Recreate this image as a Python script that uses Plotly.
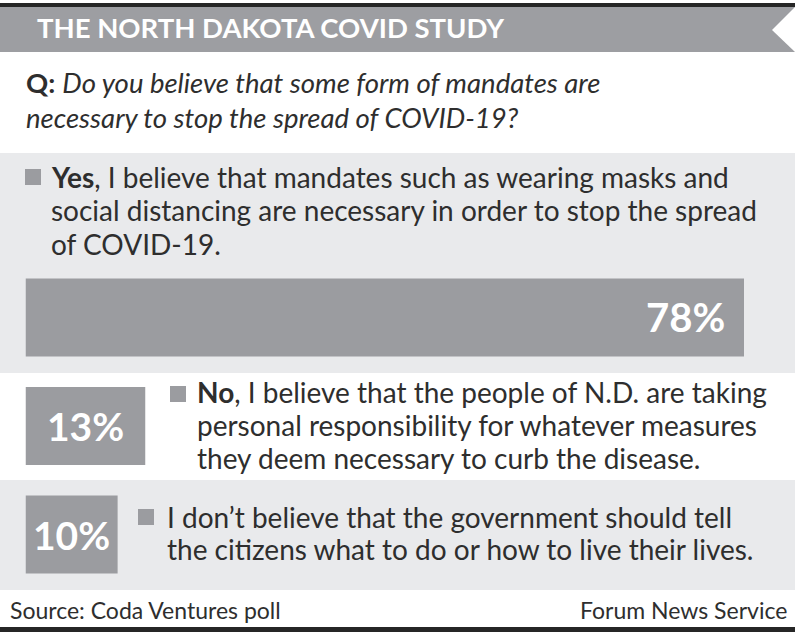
import plotly.graph_objects as go

W, H = 795, 632

# ---- data ----
title = "THE NORTH DAKOTA COVID STUDY"
question_lines = [
    "Do you believe that some form of mandates are",
    "necessary to stop the spread of COVID-19?",
]
categories = ["Yes", "No", "Other"]
values = [78, 13, 10]
lead_words = ["Yes", "No", ""]
answer_lines = [
    [", I believe that mandates such as wearing masks and",
     "social distancing are necessary in order to stop the spread",
     "of COVID-19."],
    [", I believe that the people of N.D. are taking",
     "personal responsibility for whatever measures",
     "they deem necessary to curb the disease."],
    ["I don\u2019t believe that the government should tell",
     "the citizens what to do or how to live their lives."],
]
source_text = "Source: Coda Ventures poll"
credit_text = "Forum News Service"

# ---- style ----
BAR = "#9b9ca0"
HEAD = "#9d9ea2"
PANEL = "#e9eaec"
TEXT = "#2e2e2e"
FONT = "Lato"
BODY = 28


def X(px):
    return px / W


def Y(py):
    return 1 - py / H


fig = go.Figure()
fig.add_trace(go.Bar(
    x=values, y=categories, orientation="h", width=0.72,
    marker=dict(color=BAR, line=dict(width=0)),
    hoverinfo="skip", showlegend=False,
))

shapes = []


def rect(x0, y0, x1, y1, color, layer="below"):
    shapes.append(dict(type="rect", xref="paper", yref="paper",
                       x0=X(x0), x1=X(x1), y0=Y(y1), y1=Y(y0),
                       fillcolor=color, line=dict(width=0), layer=layer))


rect(0, 3, W, 7, "#262626")
rect(0, 7, W, 52, HEAD)
rect(0, 153, W, 373, PANEL)
rect(0, 480, W, 590, PANEL)
rect(0, 627, W, H, "#262626")
# notch in header
shapes.append(dict(type="path", xref="paper", yref="paper",
                   path=f"M {X(W)},{Y(7)} L {X(772)},{Y(30)} L {X(W)},{Y(52)} Z",
                   fillcolor="white", line=dict(width=0), layer="below"))
# legend squares
for (sx, sy) in [(25, 169), (170, 386), (138, 509)]:
    rect(sx, sy, sx + 16, sy + 16, BAR, layer="above")

ann = []


def line(text, x, baseline, size, color=TEXT, weight=400, xanchor="left"):
    ann.append(dict(text=text, x=X(x), y=Y(baseline - 0.36 * size),
                    xref="paper", yref="paper", xanchor=xanchor,
                    yanchor="middle", showarrow=False,
                    font=dict(family=FONT, size=size, color=color, weight=weight)))


line(title, 35, 37, 27.5, color="white", weight=700)
line("<b>Q:</b> <i>" + question_lines[0] + "</i>", 24, 92.5, 27.5)
line("<i>" + question_lines[1] + "</i>", 24, 127.5, 27.5)

answer_x = [49, 195, 165]
answer_baselines = [[187, 220.5, 254], [402, 435.5, 468.5], [527, 559.5]]
for lead, lines, ax, bls in zip(lead_words, answer_lines, answer_x, answer_baselines):
    for j, (txt, bl) in enumerate(zip(lines, bls)):
        if j == 0 and lead:
            txt = "<b>" + lead + "</b>" + txt
        line(txt, ax, bl, BODY)

for i, (cat, v) in enumerate(zip(categories, values)):
    if i == 0:
        ann.append(dict(text=f"{v}%", x=v, y=cat, xref="x", yref="y",
                        xanchor="right", yanchor="middle", xshift=-17,
                        showarrow=False,
                        font=dict(family=FONT, size=40, color="white", weight=700)))
    else:
        ann.append(dict(text=f"{v}%", x=v / 2, y=cat, xref="x", yref="y",
                        xanchor="center", yanchor="middle", showarrow=False,
                        font=dict(family=FONT, size=39, color="white", weight=700)))

line(source_text, 8, 618, 23)
line(credit_text, 789, 618, 23, xanchor="right")

px_per_pct = (744 - 25.5) / 78
fig.update_layout(
    width=W, height=H,
    margin=dict(l=0, r=0, t=0, b=0),
    paper_bgcolor="white", plot_bgcolor="rgba(0,0,0,0)",
    shapes=shapes, annotations=ann,
    xaxis=dict(domain=[X(25.5), 1], range=[0, (W - 25.5) / px_per_pct],
               visible=False, fixedrange=True),
    yaxis=dict(type="category", categoryorder="array", categoryarray=categories,
               range=[2.5, -0.5], domain=[Y(588.75), Y(263.25)],
               visible=False, fixedrange=True),
    font=dict(family=FONT),
)

fig.write_html(
    "out.html",
    config={"displayModeBar": False},
    post_script="document.body.style.margin='0px';document.body.style.overflow='hidden';",
)
